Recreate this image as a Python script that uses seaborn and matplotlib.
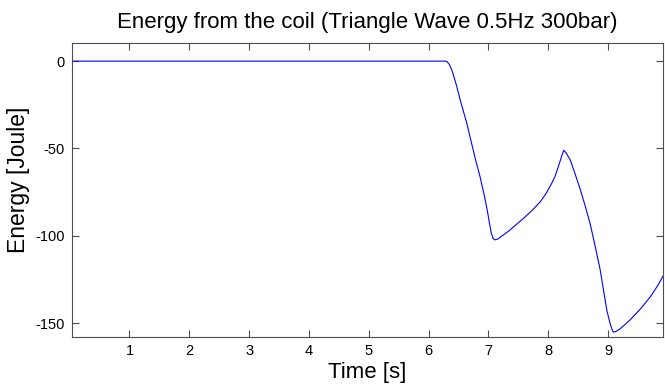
import numpy as np
import pandas as pd
import matplotlib
matplotlib.use("Agg")
import matplotlib.pyplot as plt
import seaborn as sns

# Data
time_s = [0.04, 1.0, 2.0, 3.0, 4.0, 5.0, 6.0, 6.28, 6.31, 6.35, 6.39, 6.46, 6.53, 6.64, 6.78, 6.86,
          6.93, 6.98, 7.02, 7.05, 7.08, 7.11, 7.16, 7.25, 7.35, 7.45, 7.59, 7.73, 7.87, 7.97, 8.06,
          8.12, 8.17, 8.22, 8.26, 8.30, 8.37, 8.45, 8.54, 8.62, 8.70, 8.78, 8.87, 8.93, 8.98, 9.03,
          9.07, 9.09, 9.13, 9.20, 9.37, 9.55, 9.71, 9.84, 9.92]
energy_j = [0.0, 0.0, 0.0, 0.0, 0.0, 0.0, 0.0, 0.0, -0.3, -2.0, -5.1, -13.0, -22.3, -35.6, -55.6, -66.0,
            -76.5, -85.0, -93.0, -98.5, -101.5, -102.3, -101.8, -99.5, -97.0, -94.0, -89.9, -85.5, -80.4, -75.5, -69.9,
            -65.5, -60.4, -55.0, -51.0, -52.5, -56.6, -64.5, -73.8, -83.0, -92.8, -105.0, -119.5, -132.0, -142.4, -149.5,
            -153.8, -155.1, -154.8, -153.3, -148.1, -141.5, -134.8, -128.0, -123.0]
x_ticks = [1, 2, 3, 4, 5, 6, 7, 8, 9]
y_ticks = [0, -50, -100, -150]
y_tick_labels = ["0", "-50", "-100", "-150"]

df = pd.DataFrame({"Time": time_s, "Energy": energy_j})

sns.set_theme(style="white")
plt.rcParams['font.family'] = ['Liberation Sans', 'DejaVu Sans']

fig = plt.figure(figsize=(6.65, 3.85), dpi=100)
ax = fig.add_axes([0.1083, 0.1255, 0.8887, 0.7625])
sns.lineplot(data=df, x="Time", y="Energy", ax=ax, color="#0000ff", linewidth=0.8, sort=False)

ax.set_xlim(0.04, 9.92)
ax.set_ylim(-157.7, 10.3)
ax.set_xticks(x_ticks)
ax.set_xticklabels([str(t) for t in x_ticks])
ax.set_yticks(y_ticks)
ax.set_yticklabels(y_tick_labels)

axis_col = "#4d4d4d"
for s in ax.spines.values():
    s.set_visible(True)
    s.set_color(axis_col)
    s.set_linewidth(0.8)
ax.tick_params(direction="in", length=5, width=0.8, color=axis_col,
               top=True, right=True, bottom=True, left=True,
               labelsize=10.5, labelcolor="black", pad=5)

ax.set_xlabel("Time [s]", fontsize=16, color="black", labelpad=3)
ax.set_ylabel("Energy [Joule]", fontsize=16.5, color="black")
ax.yaxis.set_label_coords(-0.071, 0.534)
ax.set_title("Energy from the coil (Triangle Wave 0.5Hz 300bar)", fontsize=16, color="black", pad=11)

fig.savefig("out.png", dpi=100)
